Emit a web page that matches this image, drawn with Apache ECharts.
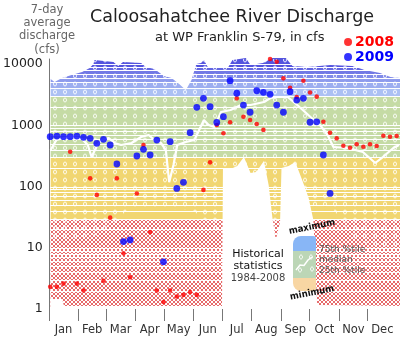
<!DOCTYPE html>
<html><head><meta charset="utf-8">
<script src="https://cdn.jsdelivr.net/npm/echarts@6/dist/echarts.min.js"></script>
<style>html,body{margin:0;padding:0;background:#fff}#c{width:400px;height:337px}</style>
</head><body><div id="c"></div>
<script>
// ---- axis / tick data ----
const months = ['Jan','Feb','Mar','Apr','May','Jun','Jul','Aug','Sep','Oct','Nov','Dec'];
const monthStarts = [0,31,60,91,121,152,182,213,244,274,305,335];
const monthMids = [15.5,45.5,75.5,106,136.5,167,197.5,228.5,259,289.5,320,350.5];
const yTickValues = [1,10,100,1000,10000];

// ---- weekly 7-day average discharge (cfs) ----
const weekDays = [1.5,8.5,15.5,22.5,29.5,36.5,43.5,50.5,57.5,64.5,71.5,78.5,85.5,92.5,99.5,106.5,113.5,120.5,127.5,134.5,141.5,148.5,155.5,162.5,169.5,176.5,183.5,190.5,197.5,204.5,211.5,218.5,225.5,232.5,239.5,246.5,253.5,260.5,267.5,274.5,281.5,288.5,295.5,302.5,309.5,316.5,323.5,330.5,337.5,344.5,351.5,358.5,365.5];
const flow2008 = [2.3,2.3,2.6,370,2.6,2.0,136,73,2.9,31,136,8.1,3.3,77,476,18,2.0,1.3,2.0,1.6,1.7,1.9,1.7,88,248,1010,740,1120,2750,1380,1220,1050,840,12070,10900,5840,4080,2890,5340,3430,2930,1140,756,612,464,430,489,447,489,459,675,650,667];
const flow2009 = [650,667,650,650,667,636,612,507,590,476,233,12.6,13.4,315,405,327,574,5.9,539,93,117,756,1960,2750,2010,1110,1380,5340,3330,2140,1630,3660,3450,3200,2140,1630,3530,2580,2750,1120,1140,327,77];

// ---- historical statistics 1984-2008 (cfs) ----
const maxDays = [2,4,6,14,24,35,43,47,48,68,73,78,97,102,111,121,129,137,144,150,155,160,163,167,181,188,193,207,212,225,235,249,256,272,296,319,332,348,359,369];
const maxFlow = [5690,5480,5080,5900,6610,7400,8610,10000,11610,10790,9270,10790,10380,8930,8280,6370,5900,4710,3770,5480,10000,10380,11610,8930,8610,8610,11610,12530,9640,10380,12530,12530,9270,8930,9640,9270,7980,7130,6140,5900];
const minDays = [2,14,16,182,183,191,198,205,212,218,226,231,235,238.5,243,244.5,252,259,267,273,278,282,369];
const minFlow = [1.46,1.46,1.12,1.12,200,193,216,303,166,173,261,106,30.6,13.4,26.3,200,216,251,118,65,28.4,1.16,1.12];
const medianDays = [2,8,16,24,35,41,45,50,55,63,69,76,87,97,105,111,118,123,126.5,131,135,144,153,158,163,168,174,181,191,202,212,226,233,240,251,261,275,285,293,299,314,330,343,351,362,368];
const medianFlow = [394,574,619,643,597,476,303,442,574,619,513,476,513,643,693,574,513,394,118,224,476,533,574,836,1218,1010,936,1645,1774,2143,2143,2399,2786,2893,2893,2143,1364,1010,693,442,425,366,242,303,425,476];
const iqrDays = [2,30,42,75,88,118,128,148,160,175,260,275,290,369];
const p25Flow = [110,90,36,36,75,75,33,40,300,600,650,250,32,32];
const p75Flow = [1350,1500,1600,1500,1500,1500,1600,2000,4000,6000,6500,3000,2000,2000];

// flow classes for the envelope colouring (cfs)
const classEdges = [30, 300, 3000];

const lg = v => Math.log10(v);
const pairs = (days, vals) => days.map((d, i) => [d, lg(vals[i])]);
const FONT = 'DejaVu Sans';

function hatchTile() {
  const c = document.createElement('canvas'); c.width = 4; c.height = 4;
  const g = c.getContext('2d');
  g.fillStyle = '#fff'; g.fillRect(0, 0, 4, 4);
  g.strokeStyle = 'rgba(225,70,70,0.8)'; g.lineWidth = 1;
  g.beginPath(); g.moveTo(-1, -1); g.lineTo(5, 5); g.moveTo(5, -1); g.lineTo(-1, 5); g.stroke();
  return c;
}
function ringTile() {
  const c = document.createElement('canvas'); c.width = 10; c.height = 8;
  const g = c.getContext('2d');
  g.strokeStyle = 'rgba(255,255,255,0.85)'; g.lineWidth = 1;
  g.beginPath(); g.ellipse(5, 4, 1.5, 2, 0, 0, Math.PI * 2); g.stroke();
  return c;
}

const chart = echarts.init(document.getElementById('c'), null, {renderer: 'canvas', width: 400, height: 337});
const noLine = {width: 0, opacity: 0};

const option = {
  animation: false,
  title: [
    {text: 'Caloosahatchee River Discharge', left: 85, top: 3,
     textStyle: {fontFamily: FONT, fontSize: 17.5, fontWeight: 'normal', color: '#222'}},
    {text: 'at WP Franklin S-79, in cfs', left: 150, top: 26,
     textStyle: {fontFamily: FONT, fontSize: 13, fontWeight: 'normal', color: '#222'}}
  ],
  legend: {
    data: [{name: '2008', textStyle: {color: '#ff0000'}}, {name: '2009', textStyle: {color: '#0000ff'}}],
    orient: 'vertical', right: 1, top: 30, itemGap: 1, itemWidth: 8, itemHeight: 8, icon: 'circle',
    selectedMode: false,
    textStyle: {fontFamily: FONT, fontWeight: 'bold', fontSize: 14, padding: [0, 0, 0, -2]}
  },
  grid: {left: 47, right: 0, top: 59, bottom: 28},
  xAxis: {
    type: 'value', min: 0, max: 369, offset: 7,
    axisLine: {show: false},
    axisTick: {show: true, customValues: monthStarts, length: 12, lineStyle: {color: '#777'}},
    axisLabel: {customValues: monthMids, margin: 8, fontFamily: FONT, fontSize: 11.5, color: '#333',
      formatter: v => months[monthMids.findIndex(m => Math.abs(m - v) < 0.01)]},
    splitLine: {show: false}
  },
  yAxis: {
    type: 'value', min: 0, max: 4.082, offset: 3,
    axisLine: {show: true, lineStyle: {color: '#777'}},
    axisTick: {show: false},
    axisLabel: {customValues: yTickValues.map(lg), margin: 3, fontFamily: FONT, fontSize: 12.5, color: '#222',
      formatter: v => String(Math.round(Math.pow(10, v)))},
    splitLine: {show: false}
  },
  series: [
    {id: 'envelope', name: 'envelope', type: 'line', data: pairs(maxDays, maxFlow), symbol: 'none',
     lineStyle: noLine, areaStyle: {origin: 'start', color: '#c5dba5', opacity: 1}, clip: false, silent: true, z: 1},
    {id: 'minfill', name: 'minfill', type: 'line', data: pairs(minDays, minFlow), symbol: 'none',
     lineStyle: noLine, areaStyle: {origin: 'start', color: '#ffffff', opacity: 1}, clip: false, silent: true, z: 1},
    {id: 'p25', name: 'p25', type: 'line', stack: 'iqr', data: pairs(iqrDays, p25Flow), symbol: 'none',
     lineStyle: noLine, silent: true, z: 1},
    {id: 'iqr', name: 'iqr', type: 'line', stack: 'iqr',
     data: iqrDays.map((d, i) => [d, lg(p75Flow[i]) - lg(p25Flow[i])]), symbol: 'none',
     lineStyle: noLine, areaStyle: {color: {image: ringTile(), repeat: 'repeat'}, opacity: 1}, silent: true, z: 1},
    {id: 'median', name: 'median', type: 'line', data: pairs(medianDays, medianFlow), symbol: 'none',
     lineStyle: {width: 2.2, color: '#ffffff'}, silent: true, z: 2},
    {id: 's2008', name: '2008', type: 'scatter', data: weekDays.map((d, i) => [d, lg(flow2008[i])]),
     symbolSize: 4.6, itemStyle: {color: '#ff0000'}, clip: false, z: 3},
    {id: 's2009', name: '2009', type: 'scatter', data: weekDays.slice(0, flow2009.length).map((d, i) => [d, lg(flow2009[i])]),
     symbolSize: 6.8, itemStyle: {color: '#0000ff'}, clip: false, z: 4}
  ],
  graphic: [
    {type: 'text', x: 47, y: 3.5, z: 100, silent: true,
     style: {text: '7-day\naverage\ndischarge\n(cfs)', font: '11.5px "DejaVu Sans"', fill: '#666',
       textAlign: 'center', verticalAlign: 'top', textVerticalAlign: 'top', lineHeight: 13.2}},
    {type: 'rect', z: 100, silent: true, shape: {x: 266, y: 237, width: 50, height: 72}, style: {fill: '#fff'}},
    {type: 'text', x: 258, y: 254.5, z: 101, silent: true,
     style: {text: 'Historical', font: '11px "DejaVu Sans"', fill: '#111', textAlign: 'center', verticalAlign: 'middle', textVerticalAlign: 'middle'}},
    {type: 'text', x: 258, y: 266, z: 101, silent: true,
     style: {text: 'statistics', font: '11px "DejaVu Sans"', fill: '#111', textAlign: 'center', verticalAlign: 'middle', textVerticalAlign: 'middle'}},
    {type: 'text', x: 258, y: 278, z: 101, silent: true,
     style: {text: '1984-2008', font: '10px "DejaVu Sans"', fill: '#444', textAlign: 'center', verticalAlign: 'middle', textVerticalAlign: 'middle'}},
    {type: 'rect', z: 101, silent: true, shape: {x: 293, y: 236, width: 23, height: 15, r: [8, 3, 0, 0]}, style: {fill: '#88b6f6'}},
    {type: 'rect', z: 101, silent: true, shape: {x: 293, y: 251, width: 23, height: 27}, style: {fill: '#bcd6b6'}},
    {type: 'rect', z: 101, silent: true, shape: {x: 293, y: 278, width: 23, height: 13, r: [0, 0, 3, 8]}, style: {fill: '#f8d6a3'}},
    {type: 'polyline', z: 102, silent: true, shape: {points: [[296, 270], [300, 265], [304, 265.5], [308, 260], [312, 257]]},
     style: {stroke: '#fff', lineWidth: 1.5, fill: null}},
    {type: 'ellipse', z: 102, silent: true, shape: {cx: 301, cy: 257, rx: 1.5, ry: 2}, style: {stroke: '#fff', fill: null, lineWidth: 1}},
    {type: 'ellipse', z: 102, silent: true, shape: {cx: 311, cy: 257, rx: 1.5, ry: 2}, style: {stroke: '#fff', fill: null, lineWidth: 1}},
    {type: 'ellipse', z: 102, silent: true, shape: {cx: 300, cy: 270, rx: 1.5, ry: 2}, style: {stroke: '#fff', fill: null, lineWidth: 1}},
    {type: 'ellipse', z: 102, silent: true, shape: {cx: 312, cy: 269, rx: 1.5, ry: 2}, style: {stroke: '#fff', fill: null, lineWidth: 1}},
    {type: 'text', x: 312, y: 227, rotation: 0.2, z: 103, silent: true,
     style: {text: 'maximum', font: 'bold 9.5px "DejaVu Sans Condensed", "DejaVu Sans"', fill: '#111', textAlign: 'center', verticalAlign: 'middle', textVerticalAlign: 'middle'}},
    {type: 'text', x: 312, y: 293, rotation: 0.2, z: 103, silent: true,
     style: {text: 'minimum', font: 'bold 9.5px "DejaVu Sans Condensed", "DejaVu Sans"', fill: '#111', textAlign: 'center', verticalAlign: 'middle', textVerticalAlign: 'middle'}},
    {type: 'text', x: 319, y: 249.5, z: 103, silent: true,
     style: {text: '75th %tile', font: '9px "DejaVu Sans"', fill: '#555', textAlign: 'left', verticalAlign: 'middle', textVerticalAlign: 'middle'}},
    {type: 'text', x: 319, y: 259.5, z: 103, silent: true,
     style: {text: 'median', font: '9px "DejaVu Sans"', fill: '#555', textAlign: 'left', verticalAlign: 'middle', textVerticalAlign: 'middle'}},
    {type: 'text', x: 319, y: 270.5, z: 103, silent: true,
     style: {text: '25th %tile', font: '9px "DejaVu Sans"', fill: '#555', textAlign: 'left', verticalAlign: 'middle', textVerticalAlign: 'middle'}}
  ]
};
chart.setOption(option);

// Build the flow-class colouring of the envelope from the chart's own y scale
function buildBands() {
  const W = chart.getWidth(), H = chart.getHeight();
  const cv = document.createElement('canvas'); cv.width = W; cv.height = H;
  const ctx = cv.getContext('2d');
  const py = v => Math.round(chart.convertToPixel({gridIndex: 0}, [0, lg(v)])[1]);
  const [c1, c2, c3] = classEdges;
  ctx.fillStyle = '#fff'; ctx.fillRect(0, py(c1), W, H - py(c1));
  ctx.fillStyle = ctx.createPattern(hatchTile(), 'repeat'); ctx.fillRect(0, py(c1), W, H - py(c1));
  ctx.fillStyle = '#f1d671'; ctx.fillRect(0, py(c2), W, py(c1) - py(c2));
  ctx.fillStyle = '#c5dba5'; ctx.fillRect(0, py(c3), W, py(c2) - py(c3));
  const steps = [3000, 4000, 5000, 6000, 7000, 8000, 9000, 10000, 1e6];
  const lo = [172, 192, 244], hi = [84, 84, 222];
  for (let i = 0; i < steps.length - 1; i++) {
    const t = Math.min(1, i / 6);
    const col = lo.map((c, k) => Math.round(c + (hi[k] - c) * t));
    ctx.fillStyle = 'rgb(' + col.join(',') + ')';
    const top = Math.max(0, py(steps[i + 1]));
    ctx.fillRect(0, top, W, py(steps[i]) - top);
  }
  ctx.fillStyle = '#fff';
  for (let n = 0; n <= 4; n++) for (let k = 1; k <= 9; k++) {
    const yy = py(k * Math.pow(10, n));
    ctx.fillRect(0, yy, W, 1);
  }
  return cv;
}
chart.setOption({series: [{id: 'envelope', areaStyle: {color: {image: buildBands(), repeat: 'no-repeat'}}}]});
</script></body></html>
